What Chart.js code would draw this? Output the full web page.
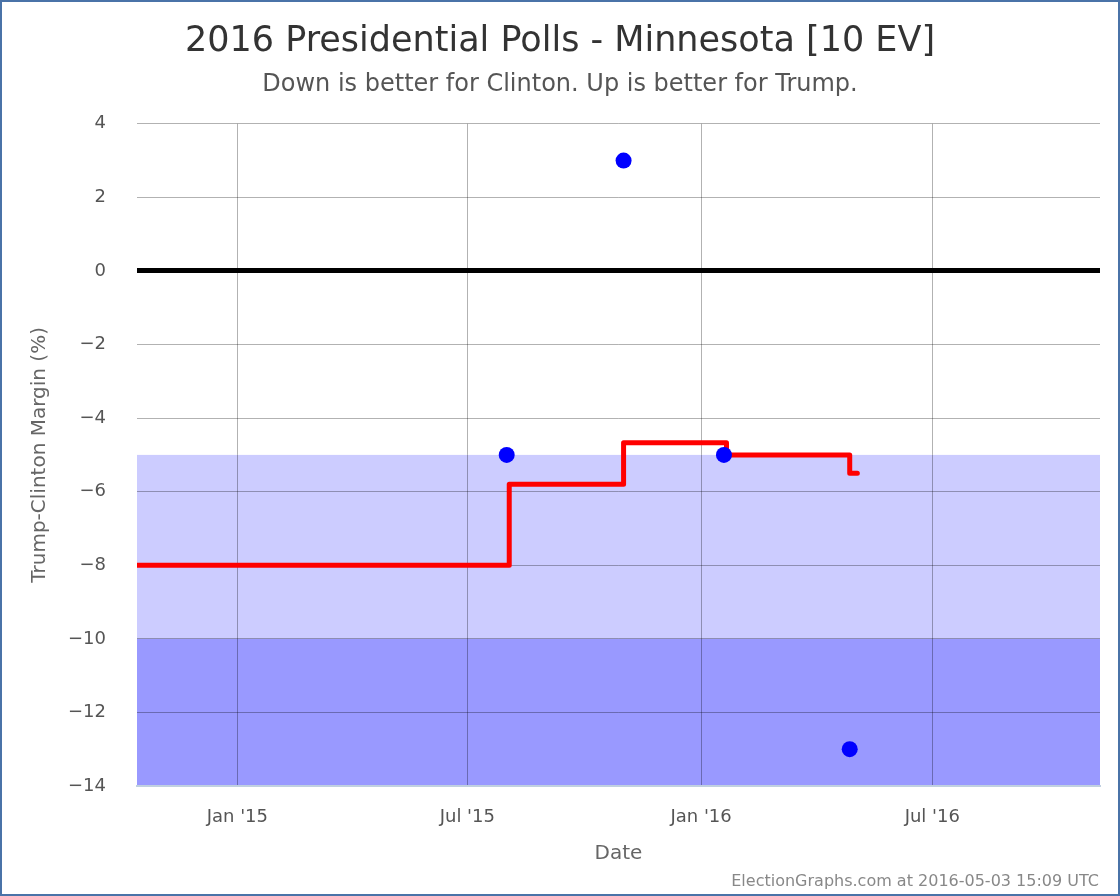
<!DOCTYPE html>
<html>
<head>
<meta charset="utf-8">
<title>2016 Presidential Polls - Minnesota</title>
<script src="https://cdn.jsdelivr.net/npm/chart.js@4/dist/chart.umd.min.js"></script>
<style>
    html, body { margin: 0; padding: 0; background: #fff; }
    #frame {
        position: relative;
        width: 1120px;
        height: 896px;
        box-sizing: border-box;
        border: 2px solid #4a73a8;
    }
    #wrap { position: absolute; left: 0; top: 0; width: 1116px; height: 892px; }
    #footer {
        position: absolute;
        right: 19px;
        bottom: 4px;
        font: 16px 'DejaVu Sans', sans-serif;
        color: #888;
    }
</style>
</head>
<body>
<div id="frame">
    <div id="wrap"><canvas id="pollChart"></canvas></div>
    <div id="footer">ElectionGraphs.com at 2016-05-03 15:09 UTC</div>
</div>
<script>
// x values are days since 2015-01-01
const xMin = -79;
const xMax = 679;
const tickDays = [0, 181, 365, 547];
const tickLabels = ["Jan '15", "Jul '15", "Jan '16", "Jul '16"];

const yTicks = [4, 2, 0, -2, -4, -6, -8, -10, -12, -14];

// individual polls
const pollDays = [212, 304, 383, 482];
const pollMargins = [-5, 3, -5, -13];

// poll average, value starts at each day
const avgDays = [-79, 214, 304, 385, 482, 488];
const avgMargins = [-8, -5.8, -4.67, -5, -5.5, -5.5];

// shaded bands (Clinton side)
const bandFrom = [-5, -10];
const bandTo = [-10, -14];
const bandColors = ['#ccccff', '#9999ff'];

const bandPlugin = {
    id: 'bands',
    beforeDraw(chart) {
        const { ctx, chartArea, scales } = chart;
        ctx.save();
        for (let i = 0; i < bandFrom.length; i++) {
            const y1 = scales.y.getPixelForValue(bandFrom[i]);
            const y2 = scales.y.getPixelForValue(bandTo[i]);
            ctx.fillStyle = bandColors[i];
            ctx.fillRect(chartArea.left, y1, chartArea.right - chartArea.left, y2 - y1);
        }
        ctx.restore();
    }
};

const ctx = document.getElementById('pollChart').getContext('2d');
new Chart(ctx, {
    type: 'scatter',
    data: {
        datasets: [
            {
                label: 'Polls',
                data: pollDays.map((d, i) => ({ x: d, y: pollMargins[i] })),
                backgroundColor: '#0000ff',
                borderWidth: 0,
                pointRadius: 8,
                order: 0
            },
            {
                label: 'Average',
                type: 'line',
                data: avgDays.map((d, i) => ({ x: d, y: avgMargins[i] })),
                borderColor: '#ff0000',
                borderWidth: 5,
                borderJoinStyle: 'round',
                borderCapStyle: 'round',
                stepped: 'before',
                pointRadius: 0,
                fill: false,
                order: 1
            }
        ]
    },
    options: {
        responsive: true,
        maintainAspectRatio: false,
        devicePixelRatio: 1,
        animation: false,
        events: [],
        plugins: {
            legend: { display: false },
            tooltip: { enabled: false },
            title: {
                display: true,
                text: '2016 Presidential Polls - Minnesota [10 EV]',
                color: '#333',
                font: { family: 'DejaVu Sans', size: 35, weight: 'normal' },
                padding: { top: 19, bottom: 7 }
            },
            subtitle: {
                display: true,
                text: 'Down is better for Clinton. Up is better for Trump.',
                color: '#555',
                font: { family: 'DejaVu Sans', size: 24, weight: 'normal' },
                padding: { top: 0, bottom: 25 }
            }
        },
        scales: {
            x: {
                type: 'linear',
                min: xMin,
                max: xMax,
                afterBuildTicks(scale) {
                    scale.ticks = tickDays.map(v => ({ value: v }));
                },
                afterFit(scale) { scale.height = 108; },
                ticks: {
                    callback: v => tickLabels[tickDays.indexOf(v)],
                    color: '#555',
                    font: { family: 'DejaVu Sans', size: 18 },
                    padding: 21,
                    maxRotation: 0
                },
                grid: { color: 'rgba(0,0,0,0.3)', lineWidth: 1, drawTicks: false },
                border: { display: true, color: '#c0d0e0', width: 2 },
                title: {
                    display: true,
                    text: 'Date',
                    color: '#666',
                    font: { family: 'DejaVu Sans', size: 20 },
                    padding: { top: 0, bottom: 28 }
                }
            },
            y: {
                type: 'linear',
                min: -14,
                max: 4,
                afterBuildTicks(scale) {
                    scale.ticks = yTicks.map(v => ({ value: v }));
                },
                afterFit(scale) { scale.width = 135; },
                ticks: {
                    callback: v => (v < 0 ? '\u2212' + Math.abs(v) : String(v)),
                    color: '#555',
                    font: { family: 'DejaVu Sans', size: 18 },
                    padding: 31
                },
                grid: {
                    color: c => c.tick && c.tick.value === 0 ? '#000' : 'rgba(0,0,0,0.3)',
                    lineWidth: c => c.tick && c.tick.value === 0 ? 5 : 1,
                    drawTicks: false
                },
                border: { display: false },
                title: {
                    display: true,
                    text: 'Trump-Clinton Margin (%)',
                    color: '#666',
                    font: { family: 'DejaVu Sans', size: 20 },
                    padding: { top: 26 }
                }
            },
            // empty strip on the right so the plot ends before the frame
            yRight: {
                type: 'linear',
                position: 'right',
                min: -14,
                max: 4,
                afterFit(scale) { scale.width = 18; },
                ticks: { display: false },
                grid: { display: false, drawTicks: false },
                border: { display: false }
            }
        }
    },
    plugins: [bandPlugin]
});
</script>
</body>
</html>
